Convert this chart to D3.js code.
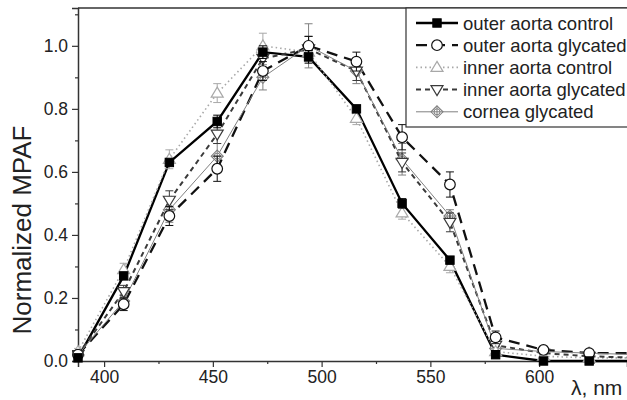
<!DOCTYPE html>
<html>
<head>
<meta charset="utf-8">
<script src="https://cdn.jsdelivr.net/npm/d3@7"></script>
<style>
body { margin: 0; background: #fff; }
svg { font-family: "Liberation Sans", Arial, sans-serif; }
</style>
</head>
<body>
<svg id="chart" width="627" height="400"></svg>
<script>
// wavelengths (nm)
var wavelengths = [388, 409, 430, 452, 473, 494, 516, 537, 559, 580, 602, 623, 645];

var outerControl = [0.01, 0.27, 0.63, 0.76, 0.98, 0.965, 0.80, 0.50, 0.32, 0.02, 0.0, 0.0, 0.0];
var outerControlErr = [0.01, 0.01, 0.01, 0.02, 0.02, 0.02, 0.01, 0.015, 0.01, 0.01, 0.0, 0.0, 0.0];

var outerGlycated = [0.02, 0.18, 0.46, 0.61, 0.92, 1.0, 0.95, 0.71, 0.56, 0.075, 0.035, 0.025, 0.025];
var outerGlycatedErr = [0.01, 0.02, 0.03, 0.04, 0.03, 0.03, 0.03, 0.04, 0.04, 0.02, 0.01, 0.01, 0.01];

var innerControl = [0.03, 0.29, 0.64, 0.85, 1.0, 0.98, 0.77, 0.47, 0.30, 0.03, 0.015, 0.01, 0.01];
var innerControlErr = [0.01, 0.02, 0.03, 0.03, 0.04, 0.03, 0.02, 0.02, 0.02, 0.01, 0.01, 0.01, 0.01];

var innerGlycated = [0.02, 0.22, 0.51, 0.72, 0.96, 0.99, 0.92, 0.63, 0.44, 0.05, 0.025, 0.015, 0.01];
var innerGlycatedErr = [0.01, 0.02, 0.03, 0.03, 0.03, 0.04, 0.03, 0.03, 0.03, 0.02, 0.01, 0.01, 0.01];

var corneaGlycated = [0.02, 0.19, 0.48, 0.65, 0.90, 1.0, 0.92, 0.64, 0.46, 0.04, 0.03, 0.025, 0.02];
var corneaGlycatedErr = [0.01, 0.02, 0.04, 0.04, 0.04, 0.07, 0.04, 0.05, 0.02, 0.02, 0.01, 0.01, 0.01];

var seriesNames = ["outer aorta control", "outer aorta glycated", "inner aorta control", "inner aorta glycated", "cornea glycated"];

var xMajorTicks = [400, 450, 500, 550, 600];
var xMinorTicks = [425, 475, 525, 575, 625];
var yMajorTicks = [0, 0.2, 0.4, 0.6, 0.8, 1.0];
var yMinorTicks = [0.1, 0.3, 0.5, 0.7, 0.9, 1.1];

var series = [
	{name: seriesNames[0], values: outerControl, err: outerControlErr, color: "#000", width: 2.3, dash: null, marker: "square"},
	{name: seriesNames[1], values: outerGlycated, err: outerGlycatedErr, color: "#111", width: 2.3, dash: "11,7", marker: "circle"},
	{name: seriesNames[2], values: innerControl, err: innerControlErr, color: "#a8a8a8", width: 1.6, dash: "1.5,3", marker: "triUp"},
	{name: seriesNames[3], values: innerGlycated, err: innerGlycatedErr, color: "#3a3a3a", width: 2, dash: "5,4", marker: "triDown"},
	{name: seriesNames[4], values: corneaGlycated, err: corneaGlycatedErr, color: "#808080", width: 1, dash: null, marker: "diamond"}
];

var svg = d3.select("#chart");
var plotLeft = 78, plotRight = 627, plotTop = 8, plotBottom = 361;

var x = d3.scaleLinear().domain([388, 640.4]).range([plotLeft, plotRight]);
var y = d3.scaleLinear().domain([0, 1.12]).range([plotBottom, plotTop]);

svg.append("defs").append("clipPath").attr("id", "plotclip")
	.append("rect").attr("x", plotLeft - 6).attr("y", plotTop - 2).attr("width", plotRight - plotLeft + 6).attr("height", plotBottom - plotTop + 8);

var axisColor = "#333";

// frame: top line
svg.append("line")
	.attr("x1", plotLeft).attr("x2", plotRight).attr("y1", plotTop).attr("y2", plotTop)
	.attr("stroke", axisColor).attr("stroke-width", 1.5);

// x axis
svg.append("g").attr("transform", "translate(0," + plotBottom + ")")
	.call(d3.axisBottom(x).tickValues(xMajorTicks).tickSize(6).tickPadding(4).tickFormat(d3.format("d")));
svg.append("g").attr("transform", "translate(0," + plotBottom + ")")
	.call(d3.axisBottom(x).tickValues(xMinorTicks).tickSize(3).tickFormat(""))
	.select(".domain").remove();

// y axis
svg.append("g").attr("transform", "translate(" + plotLeft + ",0)")
	.call(d3.axisLeft(y).tickValues(yMajorTicks).tickSize(6).tickPadding(4).tickFormat(d3.format(".1f")));
svg.append("g").attr("transform", "translate(" + plotLeft + ",0)")
	.call(d3.axisLeft(y).tickValues(yMinorTicks).tickSize(3).tickFormat(""))
	.select(".domain").remove();

svg.selectAll(".domain").attr("stroke", axisColor).attr("stroke-width", 1.5);
svg.selectAll(".tick line").attr("stroke", axisColor).attr("stroke-width", 1.2);
svg.selectAll(".tick text").attr("font-size", 17.5).attr("fill", "#222")
	.attr("font-family", "Liberation Sans, Arial, sans-serif");

// axis labels
svg.append("text")
	.attr("transform", "translate(31,230)rotate(-90)")
	.attr("text-anchor", "middle")
	.attr("font-size", 26).attr("fill", "#222")
	.text("Normalized MPAF");

svg.append("text")
	.attr("x", 571).attr("y", 395)
	.attr("font-size", 21).attr("fill", "#222")
	.text("λ, nm");

// markers
function drawMarker(g, type, cx, cy, color) {
	var s = 4.2;
	if (type == "square") {
		g.append("rect").attr("x", cx - s).attr("y", cy - s).attr("width", 2 * s).attr("height", 2 * s)
			.attr("fill", "#000").attr("stroke", "#000");
	} else if (type == "circle") {
		g.append("circle").attr("cx", cx).attr("cy", cy).attr("r", 5.3)
			.attr("fill", "#fff").attr("stroke", color).attr("stroke-width", 1.2);
	} else if (type == "triUp") {
		g.append("path").attr("d", "M" + cx + "," + (cy - 6) + "L" + (cx + 6) + "," + (cy + 4) + "L" + (cx - 6) + "," + (cy + 4) + "Z")
			.attr("fill", "#fff").attr("stroke", color).attr("stroke-width", 1.2);
	} else if (type == "triDown") {
		g.append("path").attr("d", "M" + cx + "," + (cy + 6) + "L" + (cx + 6) + "," + (cy - 4) + "L" + (cx - 6) + "," + (cy - 4) + "Z")
			.attr("fill", "#fff").attr("stroke", color).attr("stroke-width", 1.2);
	} else if (type == "diamond") {
		g.append("path").attr("d", "M" + cx + "," + (cy - 6) + "L" + (cx + 6) + "," + cy + "L" + cx + "," + (cy + 6) + "L" + (cx - 6) + "," + cy + "Z")
			.attr("fill", "#fff").attr("stroke", color).attr("stroke-width", 1.1);
		g.append("circle").attr("cx", cx).attr("cy", cy).attr("r", 3)
			.attr("fill", "none").attr("stroke", color).attr("stroke-width", 1);
		g.append("path").attr("d", "M" + (cx - 6) + "," + cy + "H" + (cx + 6) + "M" + cx + "," + (cy - 6) + "V" + (cy + 6))
			.attr("stroke", color).attr("stroke-width", 1);
	}
}

var plot = svg.append("g").attr("clip-path", "url(#plotclip)");

var line = d3.line()
	.x(function(d) { return x(d.w); })
	.y(function(d) { return y(d.v); });

series.forEach(function(s) {
	var pts = wavelengths.map(function(w, i) { return {w: w, v: s.values[i], e: s.err[i]}; });
	plot.append("path")
		.datum(pts)
		.attr("d", line)
		.attr("fill", "none")
		.attr("stroke", s.color)
		.attr("stroke-width", s.width)
		.style("stroke-dasharray", s.dash);
});

// error bars and markers drawn on top of all lines
series.slice().reverse().forEach(function(s) {
	var g = plot.append("g");
	wavelengths.forEach(function(w, i) {
		var cx = x(w), e = s.err[i], v = s.values[i];
		if (e > 0) {
			g.append("path")
				.attr("d", "M" + cx + "," + y(v - e) + "V" + y(v + e) +
					"M" + (cx - 4) + "," + y(v - e) + "H" + (cx + 4) +
					"M" + (cx - 4) + "," + y(v + e) + "H" + (cx + 4))
				.attr("stroke", s.color).attr("stroke-width", 1).attr("fill", "none");
		}
		drawMarker(g, s.marker, cx, y(v), s.color);
	});
});

// legend
var lg = svg.append("g");
lg.append("rect")
	.attr("x", 406).attr("y", plotTop).attr("width", 240).attr("height", 119)
	.attr("fill", "#fff").attr("stroke", axisColor).attr("stroke-width", 1.2);

series.forEach(function(s, i) {
	var ly = 23 + i * 22.2;
	lg.append("line")
		.attr("x1", 416).attr("x2", 458).attr("y1", ly).attr("y2", ly)
		.attr("stroke", s.color).attr("stroke-width", s.width)
		.style("stroke-dasharray", s.dash);
	drawMarker(lg, s.marker, 437, ly, s.color);
	lg.append("text")
		.attr("x", 463).attr("y", ly + 6.5)
		.attr("font-size", 18.5).attr("fill", "#222")
		.text(s.name);
});
</script>
</body>
</html>
